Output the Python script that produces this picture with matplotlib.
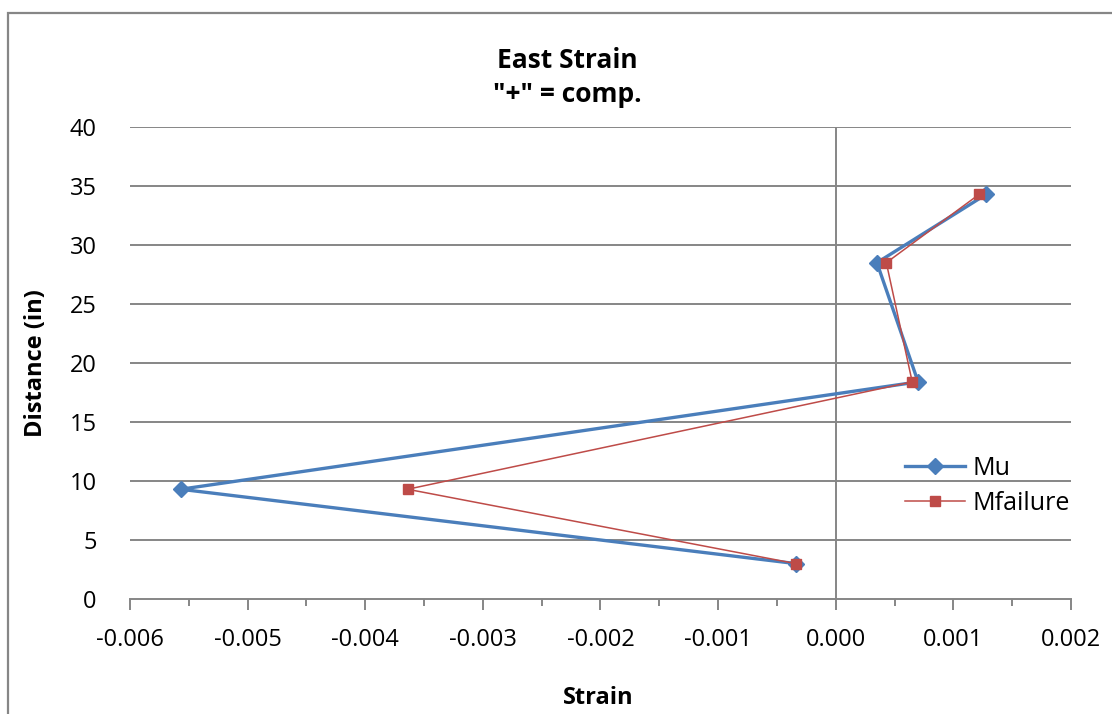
import matplotlib
matplotlib.use("Agg")
import matplotlib.pyplot as plt
from matplotlib.patches import Rectangle
from matplotlib.ticker import MultipleLocator, FormatStrFormatter

plt.rcParams['font.family'] = ['Open Sans', 'DejaVu Sans']
plt.rcParams['axes.unicode_minus'] = False

distance = [3.0, 9.3, 18.4, 28.5, 34.3]
mu_strain = [-0.00034, -0.00557, 0.00070, 0.00035, 0.00128]
mfail_strain = [-0.00034, -0.00364, 0.00065, 0.00043, 0.00122]
x_ticks = [-0.006, -0.005, -0.004, -0.003, -0.002, -0.001, 0.000, 0.001, 0.002]
y_ticks = [0, 5, 10, 15, 20, 25, 30, 35, 40]

W, H = 1112, 714
fig = plt.figure(figsize=(W / 100, H / 100), dpi=100)
fig.patch.set_facecolor('white')
fig.patches.append(Rectangle((8 / W, -0.1), 1.2, 1 - 13 / H + 0.1, transform=fig.transFigure,
                             fill=False, edgecolor='#868686', linewidth=1.6))

ax = fig.add_axes([130 / W, 1 - 599 / H, (1071 - 130) / W, (599 - 127) / H])
grid_c = '#868686'
for yv in y_ticks[1:]:
    ax.axhline(yv, color=grid_c, linewidth=1.4, zorder=1)
ax.axvline(0, color=grid_c, linewidth=1.4, zorder=1)

ax.plot(mu_strain, distance, color='#4A7EBB', linewidth=2.4, marker='D', markersize=8,
        label='Mu', zorder=3)
ax.plot(mfail_strain, distance, color='#BE4B48', linewidth=1.1, marker='s', markersize=7,
        label='Mfailure', zorder=4)

ax.set_xlim(-0.006, 0.002)
ax.set_ylim(0, 40)
ax.set_xticks(x_ticks)
ax.set_yticks(y_ticks)
ax.xaxis.set_minor_locator(MultipleLocator(0.0005))
ax.xaxis.set_major_formatter(FormatStrFormatter('%.3f'))

for s in ['top', 'right', 'left']:
    ax.spines[s].set_visible(False)
ax.spines['bottom'].set_color(grid_c)
ax.spines['bottom'].set_linewidth(1.4)
ax.tick_params(axis='x', which='major', direction='out', length=8, width=1.4, color=grid_c,
               pad=13, labelsize=17)
ax.tick_params(axis='x', which='minor', direction='out', length=5, width=1.4, color=grid_c)
ax.tick_params(axis='y', length=0, pad=24, labelsize=17)

fig.text(567 / W, 1 - 60 / H, 'East Strain', ha='center', va='center', fontsize=19, fontweight='bold')
fig.text(567 / W, 1 - 94 / H, '"+" = comp.', ha='center', va='center', fontsize=19, fontweight='bold')
fig.text(598 / W, 1 - 698 / H, 'Strain', ha='center', va='center', fontsize=17, fontweight='bold')
fig.text(36 / W, 1 - 363 / H, 'Distance (in)', ha='center', va='center', fontsize=17,
         fontweight='bold', rotation=90)

leg = ax.legend(loc='upper left', bbox_to_anchor=(895 / W, 1 - 446 / H), bbox_transform=fig.transFigure,
                frameon=False, fontsize=18, handlelength=2.4, handletextpad=0.3, labelspacing=0.4,
                borderaxespad=0)

fig.savefig('out.png', dpi=100)
